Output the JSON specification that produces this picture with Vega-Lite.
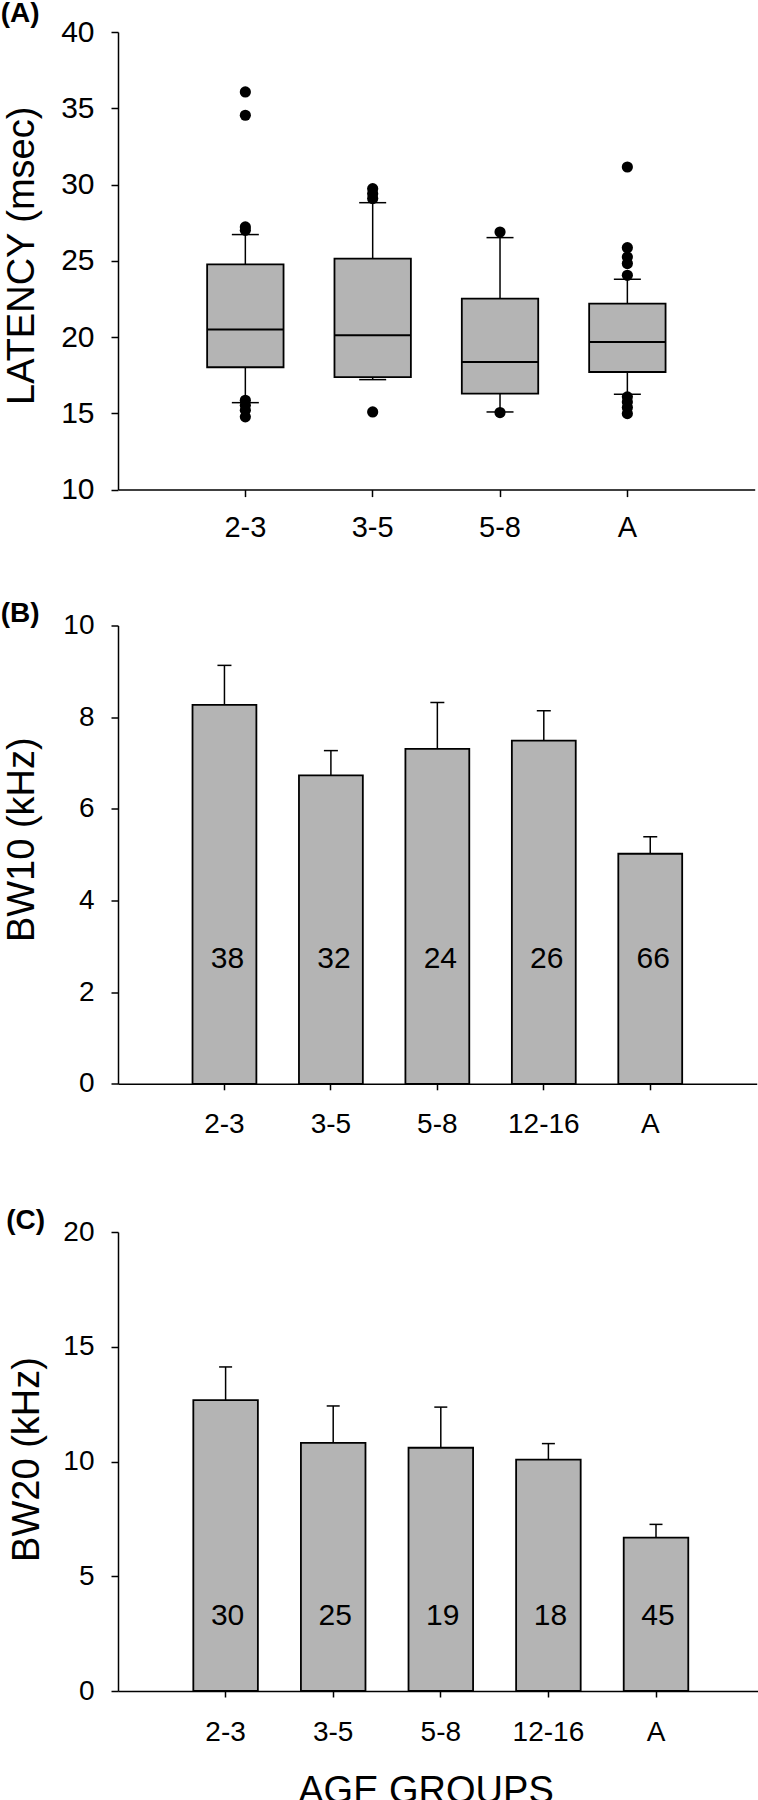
{
  "$schema": "https://vega.github.io/schema/vega-lite/v6.json",
  "padding": 0,
  "background": "white",
  "config": {
    "view": {"stroke": null},
    "font": "Liberation Sans",
    "axis": {"grid": false, "domainColor": "black", "tickColor": "black", "labelColor": "black", "titleColor": "black", "domainWidth": 1.5, "tickWidth": 1.5, "titleFontWeight": "normal", "labelOverlap": false, "labelFlush": false, "labelFont": "Liberation Sans", "titleFont": "Liberation Sans"},
    "title": {"color": "black", "font": "Liberation Sans"}
  },
  "datasets": {
    "latencyBoxes": [
      {"group": "2-3", "lo": 15.7, "q1": 18.02, "median": 20.49, "q3": 24.77, "hi": 26.72},
      {"group": "3-5", "lo": 17.21, "q1": 17.37, "median": 20.12, "q3": 25.14, "hi": 28.81},
      {"group": "5-8", "lo": 15.09, "q1": 16.29, "median": 18.37, "q3": 22.52, "hi": 26.52},
      {"group": "A", "lo": 16.25, "q1": 17.71, "median": 19.68, "q3": 22.19, "hi": 23.79}
    ],
    "latencyOutliers": [
      {"group": "2-3", "latency": 36.07}, {"group": "2-3", "latency": 34.54}, {"group": "2-3", "latency": 27.22}, {"group": "2-3", "latency": 27.0},
      {"group": "2-3", "latency": 15.86}, {"group": "2-3", "latency": 15.53}, {"group": "2-3", "latency": 15.2}, {"group": "2-3", "latency": 14.77},
      {"group": "3-5", "latency": 29.73}, {"group": "3-5", "latency": 29.4}, {"group": "3-5", "latency": 29.08}, {"group": "3-5", "latency": 15.09},
      {"group": "5-8", "latency": 26.89}, {"group": "5-8", "latency": 15.05},
      {"group": "A", "latency": 31.15}, {"group": "A", "latency": 25.86}, {"group": "A", "latency": 25.25}, {"group": "A", "latency": 24.82}, {"group": "A", "latency": 24.05},
      {"group": "A", "latency": 16.08}, {"group": "A", "latency": 15.75}, {"group": "A", "latency": 15.38}, {"group": "A", "latency": 14.98}
    ],
    "bw10": [
      {"group": "2-3", "mean": 8.27, "upper": 9.13, "n": 38},
      {"group": "3-5", "mean": 6.73, "upper": 7.27, "n": 32},
      {"group": "5-8", "mean": 7.31, "upper": 8.32, "n": 24},
      {"group": "12-16", "mean": 7.49, "upper": 8.14, "n": 26},
      {"group": "A", "mean": 5.02, "upper": 5.39, "n": 66}
    ],
    "bw20": [
      {"group": "2-3", "mean": 12.67, "upper": 14.12, "n": 30},
      {"group": "3-5", "mean": 10.81, "upper": 12.42, "n": 25},
      {"group": "5-8", "mean": 10.6, "upper": 12.37, "n": 19},
      {"group": "12-16", "mean": 10.08, "upper": 10.78, "n": 18},
      {"group": "A", "mean": 6.68, "upper": 7.26, "n": 45}
    ]
  },
  "columns": 1,
  "align": "none",
  "spacing": 68,
  "concat": [
    {
      "columns": 1,
      "align": "none",
      "spacing": 56.5,
      "concat": [
        {
          "width": 636.7,
          "height": 457.6,
          "title": {"text": "(A)", "anchor": "start", "frame": "group", "dx": -117.3, "offset": -11.3, "fontSize": 28, "fontWeight": "bold", "baseline": "top"},
          "encoding": {
            "x": {"field": "group", "type": "nominal", "scale": {"domain": ["2-3", "3-5", "5-8", "A"], "paddingInner": 0.4, "paddingOuter": 0.7},
                  "axis": {"title": null, "labelAngle": 0, "labelFontSize": 29, "tickSize": 7, "labelPadding": 16.5}}
          },
          "layer": [
            {
              "data": {"name": "latencyBoxes"},
              "mark": {"type": "rule", "color": "black", "strokeWidth": 1.5},
              "encoding": {
                "y": {"field": "lo", "type": "quantitative", "scale": {"domain": [10, 40], "nice": false, "zero": false},
                      "axis": {"values": [10, 15, 20, 25, 30, 35, 40], "title": "LATENCY (msec)", "titleFontSize": 38, "titleX": -76.8, "titleY": 223.3, "titleAngle": 270, "titleBaseline": "bottom", "titleAlign": "center", "labelFontSize": 30, "tickSize": 7, "labelPadding": 17}},
                "y2": {"field": "hi"}
              }
            },
            {
              "data": {"name": "latencyBoxes"},
              "mark": {"type": "bar", "fill": "#b4b4b4", "stroke": "black", "strokeWidth": 1.8},
              "encoding": {"y": {"field": "q1", "type": "quantitative"}, "y2": {"field": "q3"}}
            },
            {
              "data": {"name": "latencyBoxes"},
              "mark": {"type": "tick", "color": "black", "size": 76, "thickness": 2, "opacity": 1},
              "encoding": {"y": {"field": "median", "type": "quantitative"}}
            },
            {
              "data": {"name": "latencyBoxes"},
              "mark": {"type": "tick", "color": "black", "size": 27, "thickness": 1.5, "opacity": 1},
              "encoding": {"y": {"field": "lo", "type": "quantitative"}}
            },
            {
              "data": {"name": "latencyBoxes"},
              "mark": {"type": "tick", "color": "black", "size": 27, "thickness": 1.5, "opacity": 1},
              "encoding": {"y": {"field": "hi", "type": "quantitative"}}
            },
            {
              "data": {"name": "latencyOutliers"},
              "mark": {"type": "point", "filled": true, "color": "black", "size": 125, "opacity": 1, "strokeWidth": 0},
              "encoding": {"y": {"field": "latency", "type": "quantitative"}}
            }
          ]
        },
        {
          "width": 638.7,
          "height": 458.3,
          "title": {"text": "(B)", "anchor": "start", "frame": "group", "dx": -117.3, "offset": -16.1, "fontSize": 28, "fontWeight": "bold", "baseline": "top"},
          "data": {"name": "bw10"},
          "encoding": {
            "x": {"field": "group", "type": "nominal", "scale": {"domain": ["2-3", "3-5", "5-8", "12-16", "A"], "paddingInner": 0.4, "paddingOuter": 0.7},
                  "axis": {"title": null, "labelAngle": 0, "labelFontSize": 28, "tickSize": 6, "labelPadding": 21}}
          },
          "layer": [
            {
              "mark": {"type": "bar", "fill": "#b4b4b4", "stroke": "black", "strokeWidth": 1.8},
              "encoding": {
                "y": {"field": "mean", "type": "quantitative", "scale": {"domain": [0, 10], "nice": false},
                      "axis": {"values": [0, 2, 4, 6, 8, 10], "title": "BW10 (kHz)", "titleFontSize": 38, "titleX": -76.8, "titleY": 213.7, "titleAngle": 270, "titleBaseline": "bottom", "titleAlign": "center", "labelFontSize": 28, "tickSize": 7, "labelPadding": 17}}
              }
            },
            {
              "mark": {"type": "rule", "color": "black", "strokeWidth": 1.5},
              "encoding": {"y": {"field": "mean", "type": "quantitative"}, "y2": {"field": "upper"}}
            },
            {
              "mark": {"type": "tick", "color": "black", "size": 14, "thickness": 1.5, "opacity": 1},
              "encoding": {"y": {"field": "upper", "type": "quantitative"}}
            },
            {
              "mark": {"type": "text", "fontSize": 30, "color": "black", "dx": 3, "baseline": "middle"},
              "encoding": {"y": {"datum": 2.72}, "text": {"field": "n", "type": "nominal"}}
            }
          ]
        }
      ]
    },
    {
      "width": 645.6,
      "height": 459,
      "title": {"text": "(C)", "anchor": "start", "frame": "group", "dx": -111.7, "offset": -17.1, "fontSize": 28, "fontWeight": "bold", "baseline": "top"},
      "data": {"name": "bw20"},
      "encoding": {
        "x": {"field": "group", "type": "nominal", "scale": {"domain": ["2-3", "3-5", "5-8", "12-16", "A"], "paddingInner": 0.4, "paddingOuter": 0.7},
              "axis": {"title": "AGE GROUPS", "titleFontSize": 38, "titleX": 307.5, "titleY": 81, "titleBaseline": "top", "titleAlign": "center", "titleAngle": 0, "labelAngle": 0, "labelFontSize": 28, "tickSize": 6, "labelPadding": 21}}
      },
      "layer": [
        {
          "mark": {"type": "bar", "fill": "#b4b4b4", "stroke": "black", "strokeWidth": 1.8},
          "encoding": {
            "y": {"field": "mean", "type": "quantitative", "scale": {"domain": [0, 20], "nice": false},
                  "axis": {"values": [0, 5, 10, 15, 20], "title": "BW20 (kHz)", "titleFontSize": 38, "titleX": -71.2, "titleY": 227, "titleAngle": 270, "titleBaseline": "bottom", "titleAlign": "center", "labelFontSize": 28, "tickSize": 7, "labelPadding": 17}}
          }
        },
        {
          "mark": {"type": "rule", "color": "black", "strokeWidth": 1.5},
          "encoding": {"y": {"field": "mean", "type": "quantitative"}, "y2": {"field": "upper"}}
        },
        {
          "mark": {"type": "tick", "color": "black", "size": 13, "thickness": 1.5, "opacity": 1},
          "encoding": {"y": {"field": "upper", "type": "quantitative"}}
        },
        {
          "mark": {"type": "text", "fontSize": 30, "color": "black", "dx": 2, "baseline": "middle"},
          "encoding": {"y": {"datum": 3.27}, "text": {"field": "n", "type": "nominal"}}
        }
      ]
    }
  ]
}
